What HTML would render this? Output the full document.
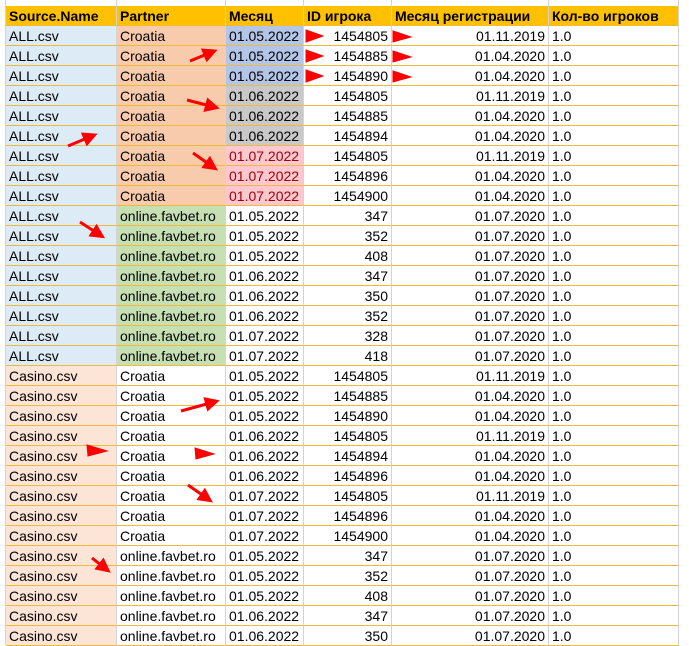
<!DOCTYPE html>
<html><head><meta charset="utf-8">
<style>
body{margin:0;width:689px;height:645px;overflow:hidden;background:#fff;font-family:"Liberation Sans","Noto Sans CJK SC",sans-serif;}
#wrap{position:absolute;left:0;top:0;width:689px;height:645px;}
.c{position:absolute;height:20px;line-height:21px;font-size:14px;color:#000;box-sizing:border-box;padding:0 3px;white-space:nowrap;overflow:hidden;border-right:1px solid #d4d4d4;border-bottom:1px solid #f0b93a;}
.h{font-weight:bold;background:#ffc000;}
.r{text-align:right;}
svg{position:absolute;left:0;top:0;}
</style></head><body>
<div id="wrap"></div>
<script>
const cols=[6,117,226,304,392,549,679];
const headers=["Source.Name","Partner","Месяц","ID игрока","Месяц регистрации","Кол-во игроков"];
const rows=[
["ALL.csv","Croatia","01.05.2022","1454805","01.11.2019"],
["ALL.csv","Croatia","01.05.2022","1454885","01.04.2020"],
["ALL.csv","Croatia","01.05.2022","1454890","01.04.2020"],
["ALL.csv","Croatia","01.06.2022","1454805","01.11.2019"],
["ALL.csv","Croatia","01.06.2022","1454885","01.04.2020"],
["ALL.csv","Croatia","01.06.2022","1454894","01.04.2020"],
["ALL.csv","Croatia","01.07.2022","1454805","01.11.2019"],
["ALL.csv","Croatia","01.07.2022","1454896","01.04.2020"],
["ALL.csv","Croatia","01.07.2022","1454900","01.04.2020"],
["ALL.csv","online.favbet.ro","01.05.2022","347","01.07.2020"],
["ALL.csv","online.favbet.ro","01.05.2022","352","01.07.2020"],
["ALL.csv","online.favbet.ro","01.05.2022","408","01.07.2020"],
["ALL.csv","online.favbet.ro","01.06.2022","347","01.07.2020"],
["ALL.csv","online.favbet.ro","01.06.2022","350","01.07.2020"],
["ALL.csv","online.favbet.ro","01.06.2022","352","01.07.2020"],
["ALL.csv","online.favbet.ro","01.07.2022","328","01.07.2020"],
["ALL.csv","online.favbet.ro","01.07.2022","418","01.07.2020"],
["Casino.csv","Croatia","01.05.2022","1454805","01.11.2019"],
["Casino.csv","Croatia","01.05.2022","1454885","01.04.2020"],
["Casino.csv","Croatia","01.05.2022","1454890","01.04.2020"],
["Casino.csv","Croatia","01.06.2022","1454805","01.11.2019"],
["Casino.csv","Croatia","01.06.2022","1454894","01.04.2020"],
["Casino.csv","Croatia","01.06.2022","1454896","01.04.2020"],
["Casino.csv","Croatia","01.07.2022","1454805","01.11.2019"],
["Casino.csv","Croatia","01.07.2022","1454896","01.04.2020"],
["Casino.csv","Croatia","01.07.2022","1454900","01.04.2020"],
["Casino.csv","online.favbet.ro","01.05.2022","347","01.07.2020"],
["Casino.csv","online.favbet.ro","01.05.2022","352","01.07.2020"],
["Casino.csv","online.favbet.ro","01.05.2022","408","01.07.2020"],
["Casino.csv","online.favbet.ro","01.06.2022","347","01.07.2020"],
["Casino.csv","online.favbet.ro","01.06.2022","350","01.07.2020"]
];
const W=document.getElementById('wrap');
function cell(x,y,w,txt,cls,bg,color){
  const d=document.createElement('div');
  d.className='c '+cls;
  d.style.left=x+'px';d.style.top=y+'px';d.style.width=w+'px';
  if(bg)d.style.background=bg;
  if(color)d.style.color=color;
  d.textContent=txt;
  W.appendChild(d);return d;
}
// top column header strip
for(let i=0;i<cols.length;i++){
  const g=document.createElement('div');
  g.style.cssText='position:absolute;top:0;height:6px;width:1px;background:#d4d4d4;left:'+(cols[i]-1)+'px';
  
  
  W.appendChild(g);
}
const lg=document.createElement('div');
lg.style.cssText='position:absolute;left:0;top:0;width:6px;height:645px;border-right:1px solid #d4d4d4;box-sizing:border-box;';


W.appendChild(lg);
for(let i=0;i<6;i++){
  const d=cell(cols[i],6,cols[i+1]-cols[i],headers[i],'h'+(i==3?'':''),null,null);
  
  
}
rows.forEach((r,ri)=>{
  const y=26+ri*20;
  const all=r[0]==='ALL.csv';
  const c1=all?'#ddebf7':'#fce4d6';
  let c2=null;
  if(all) c2=r[1]==='Croatia'?'#f8cbad':'#c6e0b4';
  let c3=null,t3=null;
  if(all&&r[1]==='Croatia'){
    if(r[2]==='01.05.2022')c3='#b4c6e7';
    else if(r[2]==='01.06.2022')c3='#c9c9c9';
    else {c3='#ffc7ce';t3='#9c0006';}
  }
  const vals=[r[0],r[1],r[2],r[3],r[4],'1.0'];
  const bgs=[c1,c2,c3,null,null,null];
  const names=['source-name-cell','partner-cell','month-cell','player-id-cell','registration-month-cell','player-count-cell'];
  for(let i=0;i<6;i++){
    const d=cell(cols[i],y,cols[i+1]-cols[i],vals[i],(i==3||i==4)?'r':'',bgs[i],i==2?t3:null);
    
    
  }
});
</script>
<svg width="689" height="645">
<g fill="#f00" stroke="#f00">
<polygon points="306,30 323,36 306,42"/>
<polygon points="306,50 323,56 306,62"/>
<polygon points="306,70 323,76 306,82"/>
<polygon points="393,31 411,37 393,42"/>
<polygon points="393,51 411,57 393,62"/>
<polygon points="393,71 411,77 393,82"/>
<polygon points="87,445 107,451 88,456"/>
<polygon points="195,448 214,454 196,459"/>
</g>
<defs><marker id="ah" markerWidth="5" markerHeight="5" refX="3" refY="2.5" orient="auto"><polygon points="0,0 5,2.5 0,5" fill="#f00"/></marker></defs>
<g stroke="#f00" stroke-width="3" fill="none" marker-end="url(#ah)">
<line x1="190" y1="61" x2="212" y2="52"/>
<line x1="187" y1="100" x2="214" y2="107"/>
<line x1="68" y1="146" x2="92" y2="136"/>
<line x1="193" y1="153" x2="213" y2="167"/>
<line x1="80" y1="222" x2="100" y2="235"/>
<line x1="181" y1="411" x2="214" y2="402"/>
<line x1="188" y1="485" x2="208" y2="499"/>
<line x1="92" y1="558" x2="106" y2="569"/>
</g>
</svg>
</body></html>
